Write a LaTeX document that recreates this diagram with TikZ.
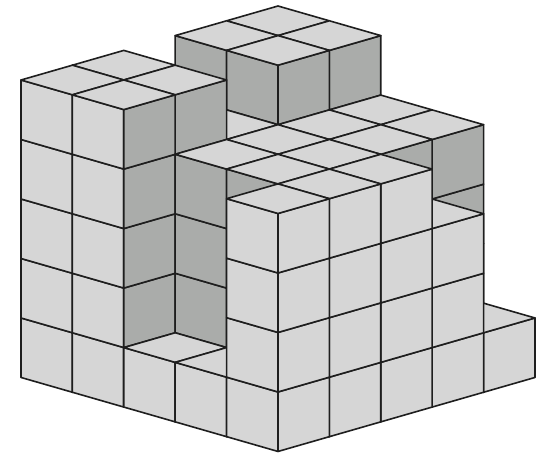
\documentclass[tikz,border=0pt]{standalone}
\usepackage{xcolor}
\usepackage{tikz}

\definecolor{facelight}{RGB}{214,214,214}
\definecolor{facedark}{RGB}{170,172,170}
\definecolor{edgeline}{RGB}{30,30,30}

\begin{document}
\begin{tikzpicture}[
  x={(38.55pt,11.1pt)}, y={(-38.55pt,11.1pt)}, z={(0pt,44.62pt)},
  cubeface/.style={draw=edgeline, fill=#1, line width=1.2pt, line join=round}
]

\useasboundingbox (-208.5pt,-1.125pt) rectangle (196.5pt,338.6pt);

% stack heights, back row first, painted back to front
\foreach \y/\row in {4/{5,5,4,5,5}, 3/{5,5,4,5,5}, 2/{1,4,4,4,4}, 1/{1,4,4,4,4}, 0/{4,4,4,3,1}} {
  \foreach \x in {4,3,2,1,0} {
    \pgfmathtruncatemacro\h{{\row}[\x]}
    \pgfmathtruncatemacro\xn{\x+1}
    \pgfmathtruncatemacro\yn{\y+1}
    \ifnum\x=0 \def\leftcol{facelight}\else\def\leftcol{facedark}\fi
    \ifnum\y=0 \def\rightcol{facelight}\else\def\rightcol{facedark}\fi
    \foreach \z in {1,...,\h} {
      \pgfmathtruncatemacro\zb{\z-1}
      \draw[cubeface=\leftcol] (\x,\y,\zb) -- (\x,\yn,\zb) -- (\x,\yn,\z) -- (\x,\y,\z) -- cycle;
      \draw[cubeface=\rightcol] (\x,\y,\zb) -- (\xn,\y,\zb) -- (\xn,\y,\z) -- (\x,\y,\z) -- cycle;
    }
    \draw[cubeface=facelight] (\x,\y,\h) -- (\xn,\y,\h) -- (\xn,\yn,\h) -- (\x,\yn,\h) -- cycle;
  }
}

\end{tikzpicture}
\end{document}
